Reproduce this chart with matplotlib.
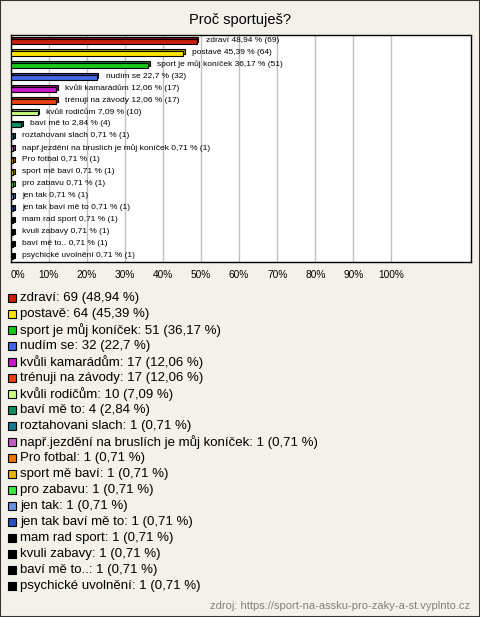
import matplotlib
matplotlib.use("Agg")
import matplotlib.pyplot as plt
from matplotlib.patches import Rectangle
from matplotlib.colors import to_rgb

W, H = 480, 617
BG = "#f3f2ea"

answers = ["zdraví", "postavě", "sport je můj koníček", "nudím se", "kvůli kamarádům",
           "trénuji na závody", "kvůli rodičům", "baví mě to", "roztahovani slach",
           "např.jezdění na bruslích je můj koníček", "Pro fotbal", "sport mě baví",
           "pro zabavu", "jen tak", "jen tak baví mě to", "mam rad sport",
           "kvuli zabavy", "baví mě to..", "psychické uvolnění"]
counts = [69, 64, 51, 32, 17, 17, 10, 4, 1, 1, 1, 1, 1, 1, 1, 1, 1, 1, 1]
percents = [48.94, 45.39, 36.17, 22.7, 12.06, 12.06, 7.09, 2.84, 0.71, 0.71, 0.71,
            0.71, 0.71, 0.71, 0.71, 0.71, 0.71, 0.71, 0.71]
colors = ["#c8200c", "#ffe400", "#18c818", "#4068e8", "#c818c8", "#e84010", "#c8ff80",
          "#109060", "#187890", "#c060c0", "#e87800", "#e8b000", "#40e840", "#6890e0",
          "#2850c0", "#000000", "#000000", "#000000", "#000000"]


def fmt(p):
    s = f"{p:.2f}".rstrip("0").rstrip(".")
    return s.replace(".", ",")


def darker(c, f=0.65):
    r, g, b = to_rgb(c)
    return (r * f, g * f, b * f)


def fx(px):
    return px / W


def fy(py):
    return 1 - py / H


fig = plt.figure(figsize=(W / 100, H / 100), dpi=100, facecolor=BG)
plt.rcParams["font.family"] = ["Liberation Sans", "DejaVu Sans"]

# border round the whole picture
fig.patches.append(Rectangle((0, 0), 1, 1, transform=fig.transFigure, fill=False,
                             edgecolor="#333333", lw=1.5))

fig.text(0.5, fy(20), "Proč sportuješ?", ha="center", va="center", fontsize=10.5)

left, right, top, bottom = 10.5, 471, 35.5, 262
ax = fig.add_axes([fx(left), fy(bottom), fx(right - left), (bottom - top) / H])
ax.set_facecolor("white")

xmax = (right - left) / 381 * 100
ax.set_xlim(0, xmax)
ax.set_ylim(len(answers) - 1 + 0.42, -0.46)

pxx = xmax / (right - left)
pxy = 1 / 12
ys = list(range(len(answers)))
bh = 5 * pxy
# back face (3D look), then front face
ax.barh([y - 1.5 * pxy for y in ys], percents, left=1.5 * pxx, height=bh,
        color=[darker(c) for c in colors], edgecolor="black", lw=0.8, zorder=3)
ax.barh(ys, percents, height=bh, color=colors, edgecolor="black", lw=0.8, zorder=4)

for y, a, p, n in zip(ys, answers, percents, counts):
    ax.annotate(f"{a} {fmt(p)} % ({n})", (p + 2 * pxx, y - pxy), xytext=(5, 0),
                textcoords="offset points", va="center", ha="left", fontsize=6,
                zorder=5)

ticks = list(range(0, 101, 10))
ax.set_xticks(ticks)
ax.set_xticklabels([f"{t}%" for t in ticks], fontsize=7.3)
ax.get_xticklabels()[0].set_horizontalalignment("left")
ax.tick_params(axis="x", length=0, pad=6)
ax.set_yticks([])
ax.grid(axis="x", color="#c0c0c0", lw=1, zorder=0)
for s in ax.spines.values():
    s.set_color("black")
    s.set_linewidth(1)

# legend below
for i, (a, p, n, c) in enumerate(zip(answers, percents, counts, colors)):
    yc = 298.3 + i * 16
    fig.patches.append(Rectangle((fx(8), fy(yc + 4)), fx(8), 8 / H,
                                 transform=fig.transFigure, facecolor=c,
                                 edgecolor="black", lw=0.8))
    fig.text(fx(20), fy(yc), f"{a}: {n} ({fmt(p)} %)", ha="left", va="center",
             fontsize=9.5)

fig.text(fx(470), fy(606), "zdroj: https://sport-na-assku-pro-zaky-a-st.vyplnto.cz",
         ha="right", va="center", fontsize=8, color="#808080")

fig.savefig("out.png", dpi=100, facecolor=BG)
